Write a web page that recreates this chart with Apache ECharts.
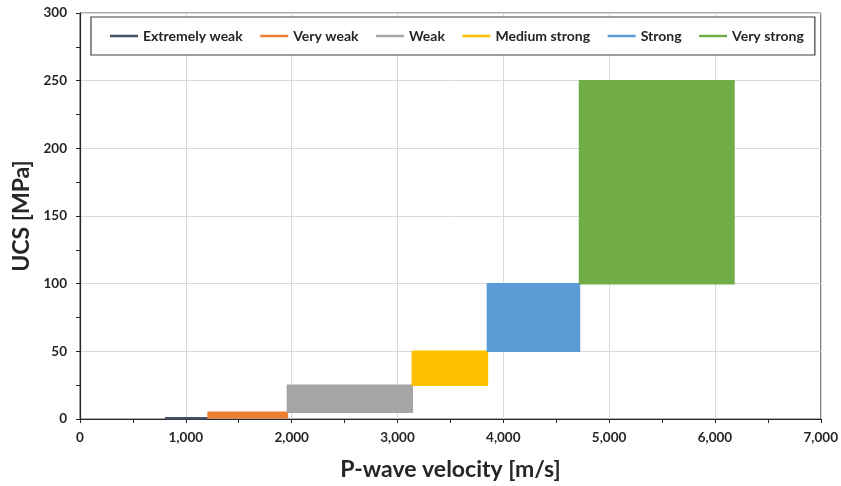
<!DOCTYPE html>
<html>
<head>
<meta charset="utf-8">
<script src="https://cdn.jsdelivr.net/npm/echarts@6/dist/echarts.min.js"></script>
<style>
  html, body { margin: 0; padding: 0; background: #fff; }
  #chart { width: 841px; height: 486px; }
</style>
</head>
<body>
<div id="chart"></div>
<script>
// Rock strength classes: P-wave velocity range (m/s) against UCS range (MPa)
const classes = ['Extremely weak', 'Very weak', 'Weak', 'Medium strong', 'Strong', 'Very strong'];
const vpMin  = [810, 1210, 1960, 3140, 3850, 4720];
const vpMax  = [1210, 1960, 3140, 3850, 4720, 6180];
const ucsMin = [0.25, 1, 5, 25, 50, 100];
const ucsMax = [1, 5, 25, 50, 100, 250];
const colors = ['#44546A', '#ED7D31', '#A5A5A5', '#FFC000', '#5B9BD5', '#70AD47'];

const FONT = 'Lato, "Open Sans", sans-serif';

function renderBox(params, api) {
  const p0 = api.coord([api.value(0), api.value(3)]);
  const p1 = api.coord([api.value(1), api.value(2)]);
  const c = api.visual('color');
  return {
    type: 'rect',
    shape: { x: p0[0], y: p0[1], width: p1[0] - p0[0], height: p1[1] - p0[1] },
    style: { fill: c, stroke: c, lineWidth: 1.5 }
  };
}

const series = classes.map((name, i) => ({
  name: name,
  type: 'custom',
  renderItem: renderBox,
  itemStyle: { color: colors[i] },
  encode: { x: [0, 1], y: [2, 3] },
  data: [[vpMin[i], vpMax[i], ucsMin[i], ucsMax[i]]],
  z: 3
}));

const chart = echarts.init(document.getElementById('chart'), null, { renderer: 'canvas' });
chart.setOption({
  animation: false,
  backgroundColor: '#fff',
  color: colors,
  grid: {
    left: 80, right: 18, top: 13, bottom: 65,
    show: true, borderColor: '#595959', borderWidth: 1, backgroundColor: 'transparent'
  },
  legend: {
    left: 91, top: 17,
    padding: [12, 11, 12, 19],
    backgroundColor: '#fff',
    borderColor: '#404040',
    borderWidth: 1.2,
    itemGap: 17.5,
    itemTextGap: 1,
    itemWidth: 28,
    itemHeight: 2.5,
    icon: 'rect',
    textStyle: { fontFamily: FONT, fontWeight: 'bold', fontSize: 14, color: '#262626' },
    data: classes
  },
  xAxis: {
    type: 'value',
    min: 0, max: 7000, interval: 1000,
    name: 'P-wave velocity [m/s]',
    nameLocation: 'middle',
    nameGap: 39,
    nameTextStyle: { fontFamily: FONT, fontWeight: 'bold', fontSize: 23, color: '#262626' },
    axisLine: { show: true, onZero: false, lineStyle: { color: '#262626', width: 1.2 } },
    axisTick: { show: true, inside: false, length: 4, lineStyle: { color: '#262626' } },
    minorTick: { show: true, splitNumber: 2, length: 4, lineStyle: { color: '#262626' } },
    splitLine: { show: true, lineStyle: { color: '#D9D9D9', width: 1 } },
    axisLabel: {
      margin: 12,
      fontFamily: FONT, fontWeight: 'bold', fontSize: 13.5, color: '#262626',
      formatter: v => v.toLocaleString('en-US')
    }
  },
  yAxis: {
    type: 'value',
    min: 0, max: 300, interval: 50,
    name: 'UCS [MPa]',
    nameLocation: 'middle',
    nameGap: 42,
    nameTextStyle: { fontFamily: FONT, fontWeight: 'bold', fontSize: 23, color: '#262626' },
    axisLine: { show: true, onZero: false, lineStyle: { color: '#262626', width: 1.2 } },
    axisTick: { show: true, inside: false, length: 4, lineStyle: { color: '#262626' } },
    minorTick: { show: true, splitNumber: 2, length: 4, lineStyle: { color: '#262626' } },
    splitLine: { show: true, lineStyle: { color: '#D9D9D9', width: 1 } },
    axisLabel: {
      margin: 13,
      fontFamily: FONT, fontWeight: 'bold', fontSize: 13.5, color: '#262626'
    }
  },
  series: series
});
</script>
</body>
</html>
